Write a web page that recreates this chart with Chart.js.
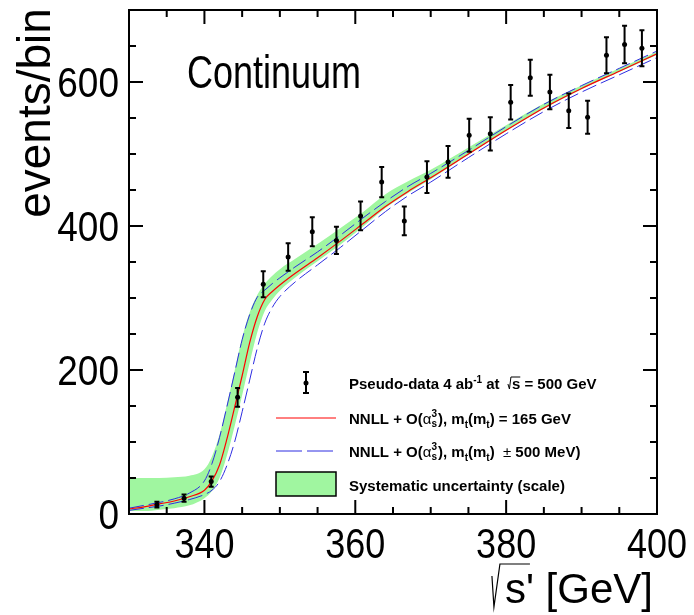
<!DOCTYPE html>
<html>
<head>
<meta charset="utf-8">
<script src="https://cdn.jsdelivr.net/npm/chart.js@4.4.1/dist/chart.umd.min.js"></script>
<style>
  body { margin: 0; background: #fff; }
  canvas { display: block; }
</style>
</head>
<body>
<canvas id="chart" width="694" height="615"></canvas>
<script>
// pseudo-data points (sqrt(s') in GeV, events/bin, stat. error)
const dataX = [333.7, 337.3, 340.9, 344.4, 347.8, 351.1, 354.3, 357.5, 360.7, 363.5, 366.5, 369.5,
  372.3, 375.1, 377.9, 380.6, 383.2, 385.8, 388.3, 390.8, 393.3, 395.7, 398.0];
const dataY = [13, 22, 45, 162, 319, 357, 392, 380, 414, 461, 407, 468,
  489, 526, 528, 572, 606, 586, 560, 551, 637, 652, 647];
const dataErr = [4, 5, 7, 13, 18, 19, 20, 19, 20, 21, 20, 22,
  22, 23, 23, 24, 25, 24, 24, 23, 25, 26, 25];

// theory curves, sampled on curveX
const curveX = [330, 332, 334, 336, 338, 340, 341, 342, 343, 344, 345, 346, 347, 348, 349, 350,
  352, 355, 358, 361, 364, 367, 370, 375, 380, 385, 390, 395, 400];
const central = [7, 10, 14, 18, 24, 33, 46, 68, 105, 148, 192, 238, 274, 298, 309, 318,
  334, 356, 379, 403, 427, 448, 467, 500, 533, 564, 591, 615, 639];
const massUp = [8, 12, 16, 21, 29, 46, 70, 106, 150, 196, 242, 277, 301, 311, 320, 328,
  343, 364, 387, 411, 434, 455, 473, 505, 538, 569, 595, 619, 643];
const massDown = [5, 8, 11, 15, 20, 27, 33, 45, 68, 100, 142, 186, 230, 265, 287, 302,
  322, 346, 370, 395, 420, 442, 461, 495, 528, 559, 586, 610, 634];
const bandLow = [4, 4, 6, 8, 12, 22, 32, 50, 82, 122, 165, 210, 252, 282, 298, 310,
  328, 351, 374, 399, 425, 446, 465, 499, 532, 563, 590, 614, 638];
const bandHigh = [50, 50, 50, 51, 53, 62, 80, 110, 153, 199, 245, 280, 304, 320, 331, 340,
  354, 375, 397, 419, 444, 462, 478, 509, 540, 570, 595, 619, 642];

// axis ticks
const xMajor = [340, 360, 380, 400];
const xMinor = [335, 345, 350, 355, 365, 370, 375, 385, 390, 395];
const yMajor = [0, 200, 400, 600];
const yMinor = [50, 100, 150, 250, 300, 350, 450, 500, 550, 650];

const FONT = '"Liberation Sans", Arial, sans-serif';
const GREEN = 'rgb(160, 246, 160)';
const BLUE = 'rgb(45, 45, 225)';

const pts = (ys) => curveX.map((x, i) => ({ x: x, y: ys[i] }));

function stretchText(ctx, txt, x, y, size, sy, align) {
  ctx.save();
  ctx.translate(x, y);
  ctx.scale(1, sy);
  ctx.font = size + 'px ' + FONT;
  ctx.textAlign = align;
  ctx.textBaseline = 'alphabetic';
  ctx.fillStyle = '#000';
  ctx.fillText(txt, 0, 0);
  ctx.restore();
}

// draws a run of text pieces; returns end x
function drawRun(ctx, pieces, x, y) {
  ctx.textAlign = 'left';
  ctx.textBaseline = 'alphabetic';
  ctx.fillStyle = '#000';
  for (const p of pieces) {
    if (p.stack) {
      ctx.font = 'bold 10px ' + FONT;
      ctx.fillText(p.sup, x, y - 7);
      ctx.fillText(p.sub, x, y + 3);
      x += Math.max(ctx.measureText(p.sup).width, ctx.measureText(p.sub).width) + 1;
      continue;
    }
    if (p.root) {
      ctx.font = 'bold 15px ' + FONT;
      const w = ctx.measureText(p.root).width;
      ctx.save();
      ctx.strokeStyle = '#000';
      ctx.lineWidth = 1;
      ctx.beginPath();
      ctx.moveTo(x, y - 5);
      ctx.lineTo(x + 1.5, y);
      ctx.lineTo(x + 3, y - 12);
      ctx.lineTo(x + 4 + w, y - 12);
      ctx.stroke();
      ctx.restore();
      ctx.fillText(p.root, x + 4, y);
      x += 4 + w;
      continue;
    }
    ctx.font = (p.font || 'bold 15px ') + FONT;
    ctx.fillText(p.t, x, y + (p.dy || 0));
    x += ctx.measureText(p.t).width;
  }
  return x;
}

const errorBars = {
  id: 'errorBars',
  afterDatasetsDraw(chart) {
    const { ctx, scales: { x, y } } = chart;
    ctx.save();
    ctx.strokeStyle = '#000';
    ctx.lineWidth = 2;
    dataX.forEach((v, i) => {
      const px = x.getPixelForValue(v);
      const top = y.getPixelForValue(dataY[i] + dataErr[i]);
      const bot = y.getPixelForValue(dataY[i] - dataErr[i]);
      ctx.beginPath();
      ctx.moveTo(px, top); ctx.lineTo(px, bot);
      ctx.moveTo(px - 2.5, top); ctx.lineTo(px + 2.5, top);
      ctx.moveTo(px - 2.5, bot); ctx.lineTo(px + 2.5, bot);
      ctx.stroke();
    });
    ctx.restore();
  }
};

const frame = {
  id: 'frame',
  afterDraw(chart) {
    const { ctx, chartArea: a, scales: { x, y } } = chart;
    ctx.save();
    ctx.strokeStyle = '#000';
    ctx.lineWidth = 2;
    ctx.strokeRect(a.left, a.top, a.right - a.left, a.bottom - a.top);
    ctx.beginPath();
    const xt = (vals, len) => vals.forEach(v => {
      const px = x.getPixelForValue(v);
      ctx.moveTo(px, a.bottom); ctx.lineTo(px, a.bottom - len);
      ctx.moveTo(px, a.top); ctx.lineTo(px, a.top + len);
    });
    const yt = (vals, len) => vals.forEach(v => {
      const py = y.getPixelForValue(v);
      ctx.moveTo(a.left, py); ctx.lineTo(a.left + len, py);
      ctx.moveTo(a.right, py); ctx.lineTo(a.right - len, py);
    });
    xt(xMajor, 14); xt(xMinor, 7);
    yt(yMajor, 14); yt(yMinor, 7);
    ctx.stroke();
    ctx.restore();

    // tick labels
    xMajor.forEach(v => stretchText(ctx, String(v), x.getPixelForValue(v), 558, 36, 1.16, 'center'));
    yMajor.forEach(v => stretchText(ctx, String(v), 119, y.getPixelForValue(v) + 15, 37, 1.13, 'right'));

    // axis titles
    ctx.save();
    ctx.translate(50, 113);
    ctx.rotate(-Math.PI / 2);
    ctx.font = '46px ' + FONT;
    ctx.textAlign = 'center';
    ctx.textBaseline = 'alphabetic';
    ctx.fillStyle = '#000';
    ctx.fillText('events/bin', 0, 0);
    ctx.restore();

    ctx.save();
    ctx.font = '42px ' + FONT;
    ctx.fillStyle = '#000';
    ctx.textAlign = 'right';
    ctx.textBaseline = 'alphabetic';
    ctx.fillText("s' [GeV]", 653, 603);
    const tw = ctx.measureText("s' [GeV]").width;
    const sx = 653 - tw;
    const sw = ctx.measureText('s').width;
    ctx.strokeStyle = '#000';
    ctx.lineWidth = 1.2;
    ctx.beginPath();
    ctx.moveTo(sx - 13, 576);
    ctx.lineTo(sx - 11, 607);
    ctx.lineTo(sx - 5, 564);
    ctx.lineTo(sx + sw + 4, 564);
    ctx.stroke();
    ctx.restore();

    stretchText(ctx, 'Continuum', 187, 88, 36, 1.3, 'left');

    // legend
    ctx.save();
    ctx.strokeStyle = '#000';
    ctx.lineWidth = 2;
    ctx.beginPath();
    ctx.moveTo(306, 372); ctx.lineTo(306, 393);
    ctx.moveTo(303, 372); ctx.lineTo(309, 372);
    ctx.moveTo(303, 393); ctx.lineTo(309, 393);
    ctx.stroke();
    ctx.fillStyle = '#000';
    ctx.beginPath(); ctx.arc(306, 383, 2.5, 0, Math.PI * 2); ctx.fill();

    ctx.strokeStyle = 'red';
    ctx.lineWidth = 1;
    ctx.beginPath(); ctx.moveTo(276, 418); ctx.lineTo(336, 418); ctx.stroke();

    ctx.strokeStyle = BLUE;
    ctx.setLineDash([26, 5]);
    ctx.beginPath(); ctx.moveTo(276, 451); ctx.lineTo(333, 451); ctx.stroke();
    ctx.setLineDash([]);

    ctx.fillStyle = GREEN;
    ctx.fillRect(276, 472, 60, 24);
    ctx.strokeStyle = '#000';
    ctx.lineWidth = 1.5;
    ctx.strokeRect(276, 472, 60, 24);

    drawRun(ctx, [
      { t: 'Pseudo-data 4 ab' },
      { t: '-1', font: 'bold 10px ', dy: -6 },
      { t: ' at  ' },
      { root: 's' },
      { t: ' = 500 GeV' }
    ], 349, 389);
    const alpha = [
      { t: 'NNLL + O(' },
      { t: 'α', font: '15px ' },
      { stack: true, sup: '3', sub: 's' },
      { t: '), m' },
      { t: 't', font: 'bold 10px ', dy: 4 },
      { t: '(m' },
      { t: 't', font: 'bold 10px ', dy: 4 },
    ];
    drawRun(ctx, alpha.concat([{ t: ') = 165 GeV' }]), 349, 424);
    drawRun(ctx, alpha.concat([{ t: ')  ' }, { t: '±', font: '15px ' }, { t: ' 500 MeV)' }]), 349, 457);
    drawRun(ctx, [{ t: 'Systematic uncertainty (scale)' }], 349, 491);
    ctx.restore();
  }
};

new Chart(document.getElementById('chart'), {
  type: 'line',
  data: {
    datasets: [
      { data: pts(bandLow), borderWidth: 0, pointRadius: 0, fill: false, order: 5,
        cubicInterpolationMode: 'monotone' },
      { data: pts(bandHigh), borderWidth: 0, pointRadius: 0, fill: '-1', backgroundColor: GREEN,
        order: 4, cubicInterpolationMode: 'monotone' },
      { data: pts(massDown), borderColor: BLUE, borderWidth: 1, borderDash: [15, 5], pointRadius: 0,
        fill: false, order: 3, cubicInterpolationMode: 'monotone' },
      { data: pts(massUp), borderColor: BLUE, borderWidth: 1, borderDash: [15, 5], pointRadius: 0,
        fill: false, order: 3, cubicInterpolationMode: 'monotone' },
      { data: pts(central), borderColor: 'red', borderWidth: 1.2, pointRadius: 0,
        fill: false, order: 2, cubicInterpolationMode: 'monotone' },
      { data: dataX.map((x, i) => ({ x: x, y: dataY[i] })), showLine: false, pointRadius: 2.5,
        pointBackgroundColor: '#000', pointBorderWidth: 0, order: 1 }
    ]
  },
  options: {
    responsive: false,
    animation: false,
    events: [],
    layout: { padding: { left: 129, right: 37, top: 10, bottom: 101 } },
    plugins: { legend: { display: false }, tooltip: { enabled: false } },
    scales: {
      x: { type: 'linear', min: 330, max: 400, display: false },
      y: { type: 'linear', min: 0, max: 700, display: false }
    }
  },
  plugins: [errorBars, frame]
});
</script>
</body>
</html>
